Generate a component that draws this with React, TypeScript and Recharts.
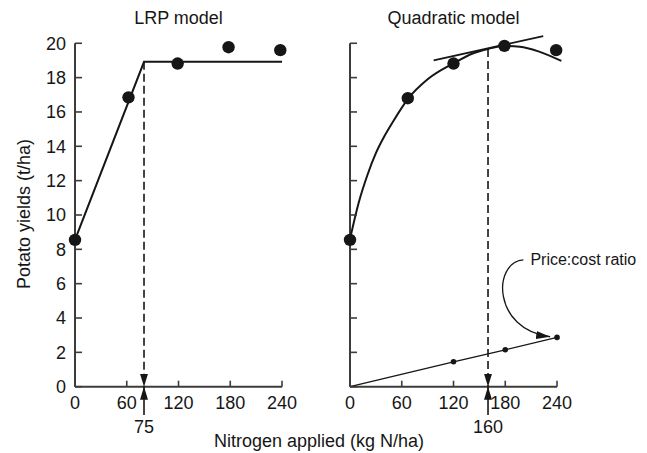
import React from 'react';
import { ComposedChart, Line, Scatter, XAxis, YAxis, ReferenceLine } from 'recharts';

// ---------- data ----------
const xTicks = [0, 60, 120, 180, 240];
const yTicks = [0, 2, 4, 6, 8, 10, 12, 14, 16, 18, 20];

const lrpObserved = [
  { x: 0, y: 8.55 },
  { x: 62, y: 16.85 },
  { x: 119, y: 18.82 },
  { x: 178, y: 19.77 },
  { x: 238, y: 19.6 },
];
const lrpFit = [
  { x: 0, y: 8.55 },
  { x: 80, y: 18.92 },
  { x: 240, y: 18.92 },
];
const lrpOptimum = { x: 80, y: 18.92 };
const lrpOptimumLabel = '75';

const quadObserved = [
  { x: 0, y: 8.55 },
  { x: 67, y: 16.8 },
  { x: 120, y: 18.82 },
  { x: 179, y: 19.85 },
  { x: 239, y: 19.6 },
];
const quadFit = [
  { x: 0, y: 8.6 },
  { x: 10, y: 10.7 },
  { x: 20, y: 12.3 },
  { x: 30, y: 13.6 },
  { x: 40, y: 14.6 },
  { x: 50, y: 15.45 },
  { x: 67, y: 16.75 },
  { x: 90, y: 17.9 },
  { x: 120, y: 18.83 },
  { x: 143, y: 19.42 },
  { x: 160, y: 19.67 },
  { x: 178, y: 19.84 },
  { x: 197, y: 19.8 },
  { x: 220, y: 19.5 },
  { x: 245, y: 18.97 },
];
const tangentLine = [
  { x: 97, y: 19.0 },
  { x: 224, y: 20.42 },
];
const quadOptimum = { x: 160, y: 19.67 };
const quadOptimumLabel = '160';

const priceCostLine = [
  { x: 0, y: 0 },
  { x: 120, y: 1.45 },
  { x: 180, y: 2.15 },
  { x: 240, y: 2.87 },
];
const priceCostPoints = [
  { x: 120, y: 1.45 },
  { x: 180, y: 2.15 },
  { x: 240, y: 2.87 },
];
const priceCostArrow = [
  { x: 201, y: 7.38 },
  { x: 232, y: 2.91 },
];
const priceCostText = 'Price:cost ratio';

const titles = ['LRP model', 'Quadratic model'];
const yLabel = 'Potato yields (t/ha)';
const xLabel = 'Nitrogen applied (kg N/ha)';

// ---------- style ----------
const FONT = '"Liberation Sans", Arial, Helvetica, sans-serif';
const INK = '#161616';
const AXIS = '#3c3c3c';
const X_DOMAIN: [number, number] = [0, 246];
const Y_DOMAIN: [number, number] = [0, 21];
const CHART_H = 453;
const LEFT_W = 320;
const RIGHT_W = 372;
const LEFT_MARGIN = { top: 26.1, right: 32.8, bottom: 36.3, left: 35 };
const RIGHT_MARGIN = { top: 26.1, right: 84.8, bottom: 36.3, left: 35 };

const makeYTick = (showLabel: boolean) => (p: any) => (
  <g>
    <line x1={p.x} y1={p.y} x2={p.x + 7} y2={p.y} stroke={AXIS} strokeWidth={1.6} />
    {showLabel && (
      <text x={p.x - 9} y={p.y} dy="0.36em" textAnchor="end" fontFamily={FONT} fontSize={18} fill={INK}>
        {p.payload.value}
      </text>
    )}
  </g>
);

const XTick = (p: any) => (
  <g>
    <line x1={p.x} y1={p.y} x2={p.x} y2={p.y - 6} stroke={AXIS} strokeWidth={1.6} />
    <text x={p.x} y={p.y + 22} textAnchor="middle" fontFamily={FONT} fontSize={18} fill={INK}>
      {p.payload.value}
    </text>
  </g>
);

const BigDot = (p: any) => <circle cx={p.cx} cy={p.cy} r={6.2} fill={INK} />;
const SmallDot = (p: any) => <circle cx={p.cx} cy={p.cy} r={2.8} fill={INK} />;

const dashedDown = (p: any) => (
  <line
    x1={p.x1}
    y1={p.y1}
    x2={p.x2}
    y2={p.y2}
    stroke={INK}
    strokeWidth={1.6}
    strokeDasharray="8 4"
    markerEnd="url(#arrowHead)"
  />
);

const upArrow = (label: string) => (p: any) => (
  <g>
    <line x1={p.x1} y1={p.y1} x2={p.x2} y2={p.y2} stroke={INK} strokeWidth={1.6} markerEnd="url(#arrowHead)" />
    <text x={p.x1} y={p.y1 + 18} textAnchor="middle" fontFamily={FONT} fontSize={18} fill={INK}>
      {label}
    </text>
  </g>
);

const curvedArrow = (p: any) => (
  <g>
    <path
      d={`M${p.x1},${p.y1} C${p.x1 - 31},${p.y1 + 2} ${p.x2 - 58},${p.y2 - 7} ${p.x2},${p.y2}`}
      fill="none"
      stroke={INK}
      strokeWidth={1.3}
      markerEnd="url(#arrowHead2)"
    />
    <text x={p.x1 + 7} y={p.y1 + 5} fontFamily={FONT} fontSize={16} fill={INK}>
      {priceCostText}
    </text>
  </g>
);

const axisLines = [
  <ReferenceLine key="ay" segment={[{ x: 0, y: 0 }, { x: 0, y: 20 }]} stroke={AXIS} strokeWidth={2} ifOverflow="visible" />,
  <ReferenceLine key="ax" segment={[{ x: 0, y: 0 }, { x: 240, y: 0 }]} stroke={AXIS} strokeWidth={2} ifOverflow="visible" />,
];

const axes = (showYLabels: boolean) => [
  <XAxis
    key="x"
    type="number"
    dataKey="x"
    domain={X_DOMAIN}
    ticks={xTicks}
    interval={0}
    axisLine={false}
    tickLine={false}
    tickSize={0}
    tickMargin={0}
    height={30}
    tick={XTick}
  />,
  <YAxis
    key="y"
    type="number"
    dataKey="y"
    domain={Y_DOMAIN}
    ticks={yTicks}
    interval={0}
    axisLine={false}
    tickLine={false}
    tickSize={0}
    tickMargin={0}
    width={40}
    tick={makeYTick(showYLabels)}
  />,
];

function LrpPanel() {
  return (
    <ComposedChart width={LEFT_W} height={CHART_H} margin={LEFT_MARGIN}>
      {axes(true)}
      {axisLines}
      <ReferenceLine segment={[lrpOptimum, { x: lrpOptimum.x, y: 0 }]} shape={dashedDown} ifOverflow="visible" />
      <ReferenceLine
        segment={[{ x: lrpOptimum.x, y: -1.65 }, { x: lrpOptimum.x, y: 0 }]}
        shape={upArrow(lrpOptimumLabel)}
        ifOverflow="visible"
      />
      <Line data={lrpFit} dataKey="y" type="linear" stroke={INK} strokeWidth={2} dot={false} isAnimationActive={false} />
      <Scatter data={lrpObserved} dataKey="y" shape={BigDot} isAnimationActive={false} />
    </ComposedChart>
  );
}

function QuadPanel() {
  return (
    <ComposedChart width={RIGHT_W} height={CHART_H} margin={RIGHT_MARGIN}>
      {axes(false)}
      {axisLines}
      <ReferenceLine segment={[quadOptimum, { x: quadOptimum.x, y: 0 }]} shape={dashedDown} ifOverflow="visible" />
      <ReferenceLine
        segment={[{ x: quadOptimum.x, y: -1.65 }, { x: quadOptimum.x, y: 0 }]}
        shape={upArrow(quadOptimumLabel)}
        ifOverflow="visible"
      />
      <ReferenceLine segment={priceCostArrow} shape={curvedArrow} ifOverflow="visible" />
      <Line data={quadFit} dataKey="y" type="monotone" stroke={INK} strokeWidth={2} dot={false} isAnimationActive={false} />
      <Line data={tangentLine} dataKey="y" type="linear" stroke={INK} strokeWidth={1.8} dot={false} isAnimationActive={false} />
      <Line data={priceCostLine} dataKey="y" type="linear" stroke={INK} strokeWidth={1.3} dot={false} isAnimationActive={false} />
      <Scatter data={priceCostPoints} dataKey="y" shape={SmallDot} isAnimationActive={false} />
      <Scatter data={quadObserved} dataKey="y" shape={BigDot} isAnimationActive={false} />
    </ComposedChart>
  );
}

export default function App() {
  return (
    <div style={{ position: 'absolute', left: 0, top: 0, width: 647, height: 453, background: '#fff', overflow: 'hidden' }}>
      <svg width={0} height={0} style={{ position: 'absolute' }}>
        <defs>
          <marker id="arrowHead" viewBox="0 0 13 8" refX={13} refY={4} markerWidth={13} markerHeight={8} markerUnits="userSpaceOnUse" orient="auto">
            <path d="M0,0 L13,4 L0,8 Z" fill={INK} />
          </marker>
          <marker id="arrowHead2" viewBox="0 0 14 8" refX={14} refY={4} markerWidth={14} markerHeight={8} markerUnits="userSpaceOnUse" orient="auto">
            <path d="M0,0 L14,4 L0,8 Z" fill={INK} />
          </marker>
        </defs>
      </svg>
      <div style={{ position: 'absolute', left: 0, top: 0 }}>
        <LrpPanel />
      </div>
      <div style={{ position: 'absolute', left: 275, top: 0 }}>
        <QuadPanel />
      </div>
      <svg width={647} height={453} style={{ position: 'absolute', left: 0, top: 0, pointerEvents: 'none' }}>
        <text x={178.5} y={24} textAnchor="middle" fontFamily={FONT} fontSize={18} fill={INK}>
          {titles[0]}
        </text>
        <text x={453.5} y={24} textAnchor="middle" fontFamily={FONT} fontSize={18} fill={INK}>
          {titles[1]}
        </text>
        <text x={30} y={214} transform="rotate(-90 30 214)" textAnchor="middle" fontFamily={FONT} fontSize={18} fill={INK}>
          {yLabel}
        </text>
        <text x={319} y={447} textAnchor="middle" fontFamily={FONT} fontSize={18} fill={INK}>
          {xLabel}
        </text>
      </svg>
    </div>
  );
}
